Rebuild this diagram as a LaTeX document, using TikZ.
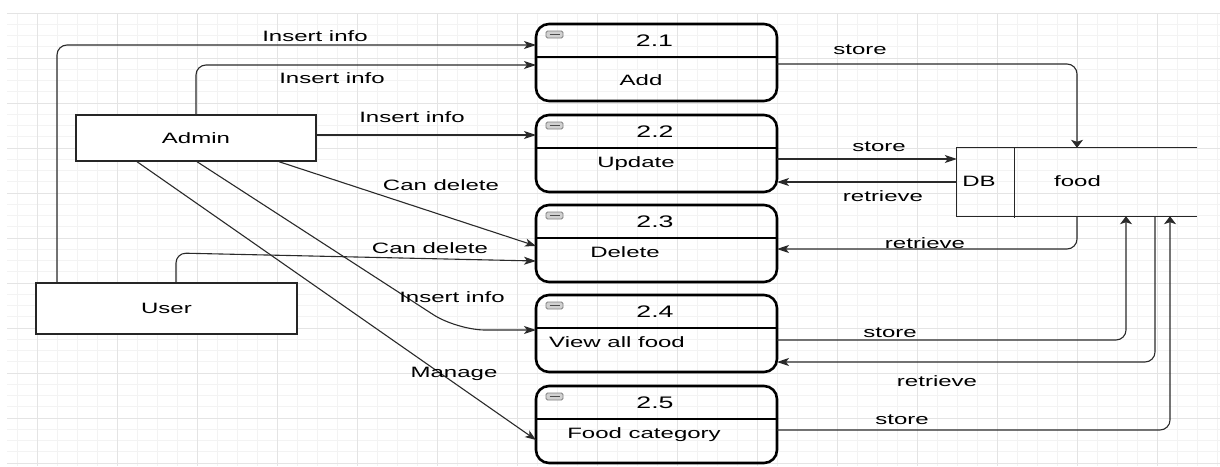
\documentclass[tikz,border=0pt]{standalone}
\usepackage{fontspec}
\setmainfont{Liberation Sans}[FakeStretch=1.6]
\usetikzlibrary{arrows.meta,calc}

\definecolor{gridminor}{HTML}{F3F3F3}
\definecolor{gridmajor}{HTML}{E4E4E4}
\definecolor{edgecol}{HTML}{2A2A2A}

\begin{document}
\begin{tikzpicture}[x=1pt,y=-1pt,
  edge/.style={draw=edgecol, line width=1.1pt, rounded corners=10pt},
  harr/.style={-{Stealth[length=12pt,width=8pt,inset=3pt]}},
  varr/.style={-{Stealth[length=8pt,width=12pt,inset=2pt]}},
  darr/.style={-{Stealth[length=11pt,width=8pt,inset=3pt]}},
  lbl/.style={font=\fontsize{15}{18}\selectfont, inner sep=0pt, text height=11pt, text depth=3pt},
  num/.style={font=\fontsize{16.7}{20}\selectfont, inner sep=0pt, text height=12pt, text depth=3pt},
  proc/.style={draw=black, line width=2.6pt, rounded corners=13pt, minimum width=241pt, minimum height=77pt, inner sep=0pt, outer sep=0pt},
  divider/.style={draw=black, line width=2.4pt},
  actor/.style={draw=black!85, line width=1.4pt, fill=white, inner sep=0pt, font=\fontsize{15}{18}\selectfont},
  storeline/.style={draw=black!85, line width=1.3pt},
  icon/.style={draw=black!50, fill=black!18, line width=0.8pt, rounded corners=1.5pt},
]
\useasboundingbox (0,0) rectangle (1220,466);

% background grid
\foreach \x in {17,37,...,1217} \draw[gridminor, line width=0.6pt] (\x,13) -- (\x,466);
\foreach \y in {13,24.25,...,466} \draw[gridminor, line width=0.6pt] (7,\y) -- (1220,\y);
\foreach \x in {37,117,...,1157} \draw[gridmajor, line width=0.7pt] (\x,13) -- (\x,466);
\foreach \y in {13,58,...,463} \draw[gridmajor, line width=0.7pt] (7,\y) -- (1220,\y);

% external entities
\node[actor, minimum width=240pt, minimum height=46pt] (admin) at (196,138) {Admin};
\node[actor, minimum width=261pt, minimum height=51pt] (user) at (166.5,308.5) {User};

% processes
\node[proc] (p1) at (656.5,62.5) {};
\node[proc] (p2) at (656.5,153.5) {};
\node[proc] (p3) at (656.5,243.5) {};
\node[proc] (p4) at (656.5,333.5) {};
\node[proc] (p5) at (656.5,424.5) {};
\foreach \p in {p1,p2,p3,p4,p5} {
  \draw[divider] ($(\p.north west)+(0,33)$) -- ($(\p.north east)+(0,33)$);
  \draw[icon] ($(\p.north west)+(10,7)$) rectangle ($(\p.north west)+(27,14)$);
  \draw[black!70, line width=0.9pt] ($(\p.north west)+(13.5,10.5)$) -- ($(\p.north west)+(23.5,10.5)$);
}
\node[num] (p1h) at (654.5,42) {2.1};
\node[num] (p2h) at (655,133) {2.2};
\node[num] (p3h) at (655,223) {2.3};
\node[num] (p4h) at (655,313) {2.4};
\node[num] (p5h) at (655,404) {2.5};
\node[lbl] (p1t) at (641,81) {Add};
\node[lbl] (p2t) at (636,163) {Update};
\node[lbl] (p3t) at (625,253) {Delete};
\node[lbl] (p4t) at (617,343) {View all food};
\node[lbl] (p5t) at (644,434) {Food category};

% data store
\node[inner sep=0pt, minimum width=240pt, minimum height=68pt] (db) at (1077,182) {};
\draw[storeline] (db.north east) -- (db.north west) -- (db.south west) -- (db.south east);
\draw[storeline] ($(db.north west)+(58,0)$) -- ($(db.south west)+(58,2)$);
\node[lbl] (dbid) at (979,182) {DB};
\node[lbl] (dbname) at (1077.5,182) {food};

% flows from the entities
\draw[edge,harr] (user.north -| 57,0) |- (p1.west |- 0,45);
\draw[edge,harr] (admin.north -| 196,0) |- (p1.west |- 0,65);
\draw[edge,harr] (admin.east |- 0,135) -- (p2.west |- 0,135);
\draw[edge,darr] (admin.south -| 279,0) -- (p3.west |- 0,246);
\draw[edge,harr] (user.north -| 176,0) -- (176,253) -- (p3.west |- 0,261);
\draw[edge,harr,rounded corners=28pt] (admin.south -| 197,0) -- (457,330) -- (p4.west |- 0,330);
\draw[edge,darr] (admin.south -| 137,0) -- (p5.west |- 0,440);

% flows to and from the store
\draw[edge,varr] (p1.east |- 0,64) -| (db.north);
\draw[edge,harr] (p2.east |- 0,159) -- (db.west |- 0,159);
\draw[edge,harr] (db.west |- 0,182) -- (p2.east |- 0,182);
\draw[edge,harr] (db.south) |- (p3.east |- 0,249);
\draw[edge,varr] (p4.east |- 0,340) -| (db.south -| 1126,0);
\draw[edge,harr] (db.south -| 1155,0) |- (p4.east |- 0,362);
\draw[edge,varr] (p5.east |- 0,430) -| (db.south -| 1170,0);

% flow labels
\node[lbl] (l1) at (315,37) {Insert info};
\node[lbl] (l2) at (332,79) {Insert info};
\node[lbl] (l3) at (412,118) {Insert info};
\node[lbl] (l4) at (441,186) {Can delete};
\node[lbl] (l5) at (430,249) {Can delete};
\node[lbl] (l6) at (452,298) {Insert info};
\node[lbl] (l7) at (454,373) {Manage};
\node[lbl] (l8) at (860,50) {store};
\node[lbl] (l9) at (879,147) {store};
\node[lbl] (l10) at (883,197) {retrieve};
\node[lbl] (l11) at (925,244) {retrieve};
\node[lbl] (l12) at (890,333) {store};
\node[lbl] (l13) at (937,382) {retrieve};
\node[lbl] (l14) at (902,420) {store};
\end{tikzpicture}
\end{document}
